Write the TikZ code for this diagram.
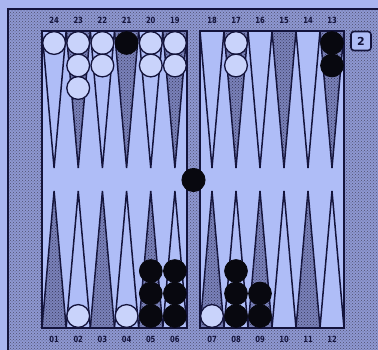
\documentclass[tikz,border=0pt]{standalone}
\usepackage{fontspec}
\setsansfont{DejaVu Sans}
\usetikzlibrary{patterns}
\definecolor{margin}{HTML}{A9B5F0}
\definecolor{frame}{HTML}{8E98D2}
\definecolor{field}{HTML}{AFBDF7}
\definecolor{darkpt}{HTML}{7A82BA}
\definecolor{ink}{HTML}{14143C}
\definecolor{wchk}{HTML}{C9D3FB}
\definecolor{bchk}{HTML}{08080F}
\begin{document}
\begin{tikzpicture}[x=1pt,y=-1pt,
  lightpt/.style={draw=ink,line width=1.5,fill=field,line join=miter},
  darkptst/.style={draw=ink,line width=1.5,fill=darkpt,postaction={pattern=crosshatch dots,pattern color=ink!85},line join=miter},
  wc/.style={draw=ink,line width=1.3,fill=wchk},
  bc/.style={draw=bchk,line width=0.8,fill=bchk},
  lbl/.style={text=ink,font=\sffamily\bfseries\fontsize{8.5}{8.5}\selectfont,inner sep=0pt,xscale=0.8},
  edge/.style={draw=ink,line width=1.5}]
\useasboundingbox (0,0) rectangle (378,350);
\fill[margin] (0,0) rectangle (378,350);
\fill[frame] (8,9) rectangle (378,350);
\fill[pattern=crosshatch dots,pattern color=ink!75] (8,9) rectangle (378,350);
\draw[edge] (8,350) -- (8,9) -- (378,9);
\fill[field] (42,31) rectangle (187,328);
\fill[field] (200,31) rectangle (344,328);
% points
\foreach \k in {0,...,5}{
  \pgfmathsetmacro{\xa}{42+24.1667*\k}
  \pgfmathsetmacro{\xb}{\xa+24.1667}
  \pgfmathsetmacro{\xm}{\xa+12.0833}
  \pgfmathsetmacro{\xc}{200+24*\k}
  \pgfmathsetmacro{\xd}{\xc+24}
  \pgfmathsetmacro{\xn}{\xc+12}
  \ifodd\k
    \draw[darkptst] (\xa,31) -- (\xm,168) -- (\xb,31);
    \draw[darkptst] (\xc,31) -- (\xn,168) -- (\xd,31);
    \draw[lightpt] (\xa,328) -- (\xm,191) -- (\xb,328);
    \draw[lightpt] (\xc,328) -- (\xn,191) -- (\xd,328);
  \else
    \draw[lightpt] (\xa,31) -- (\xm,168) -- (\xb,31);
    \draw[lightpt] (\xc,31) -- (\xn,168) -- (\xd,31);
    \draw[darkptst] (\xa,328) -- (\xm,191) -- (\xb,328);
    \draw[darkptst] (\xc,328) -- (\xn,191) -- (\xd,328);
  \fi
}
\draw[edge] (42,31) rectangle (187,328);
\draw[edge] (200,31) rectangle (344,328);
% labels
\foreach \t [count=\i from 0] in {24,23,22,21,20,19}{
  \node[lbl] (top\t) at ({54.08+24.1667*\i},20) {\t};
  }
\foreach \t [count=\i from 0] in {18,17,16,15,14,13}{
  \node[lbl] (top\t) at ({212+24*\i},20) {\t};
  }
\foreach \t [count=\i from 0] in {01,02,03,04,05,06}{
  \node[lbl] (bot\t) at ({54.08+24.1667*\i},339) {\t};
  }
\foreach \t [count=\i from 0] in {07,08,09,10,11,12}{
  \node[lbl] (bot\t) at ({212+24*\i},339) {\t};
  }
% top checkers
\draw[wc] (54.1,43) circle (11.4);
\draw[wc] (78.2,43) circle (11.4);
\draw[wc] (78.2,65.5) circle (11.4);
\draw[wc] (78.2,88) circle (11.4);
\draw[wc] (102.4,43) circle (11.4);
\draw[wc] (102.4,65.5) circle (11.4);
\draw[bc] (126.6,43) circle (11.4);
\draw[wc] (150.8,43) circle (11.4);
\draw[wc] (150.8,65.5) circle (11.4);
\draw[wc] (174.9,43) circle (11.4);
\draw[wc] (174.9,65.5) circle (11.4);
\draw[wc] (236,43) circle (11.4);
\draw[wc] (236,65.5) circle (11.4);
\draw[bc] (332,43) circle (11.4);
\draw[bc] (332,65.5) circle (11.4);
% bottom checkers
\draw[wc] (78.2,316) circle (11.4);
\draw[wc] (126.6,316) circle (11.4);
\foreach \y in {316,293.5,271}{
  \draw[bc] (150.8,\y) circle (11.4);
  \draw[bc] (174.9,\y) circle (11.4);
  \draw[bc] (236,\y) circle (11.4);
}
\draw[bc] (260,316) circle (11.4);
\draw[bc] (260,293.5) circle (11.4);
\draw[wc] (212,316) circle (11.4);
% bar checker
\draw[bc] (193.5,180) circle (11.6);
% doubling cube
\node[draw=ink,line width=1.6,rounded corners=3,fill=field,minimum width=20,minimum height=19,inner sep=0pt,
  font=\sffamily\bfseries\fontsize{11}{11}\selectfont,text=ink] (cube) at (361,41) {2};
\end{tikzpicture}
\end{document}
